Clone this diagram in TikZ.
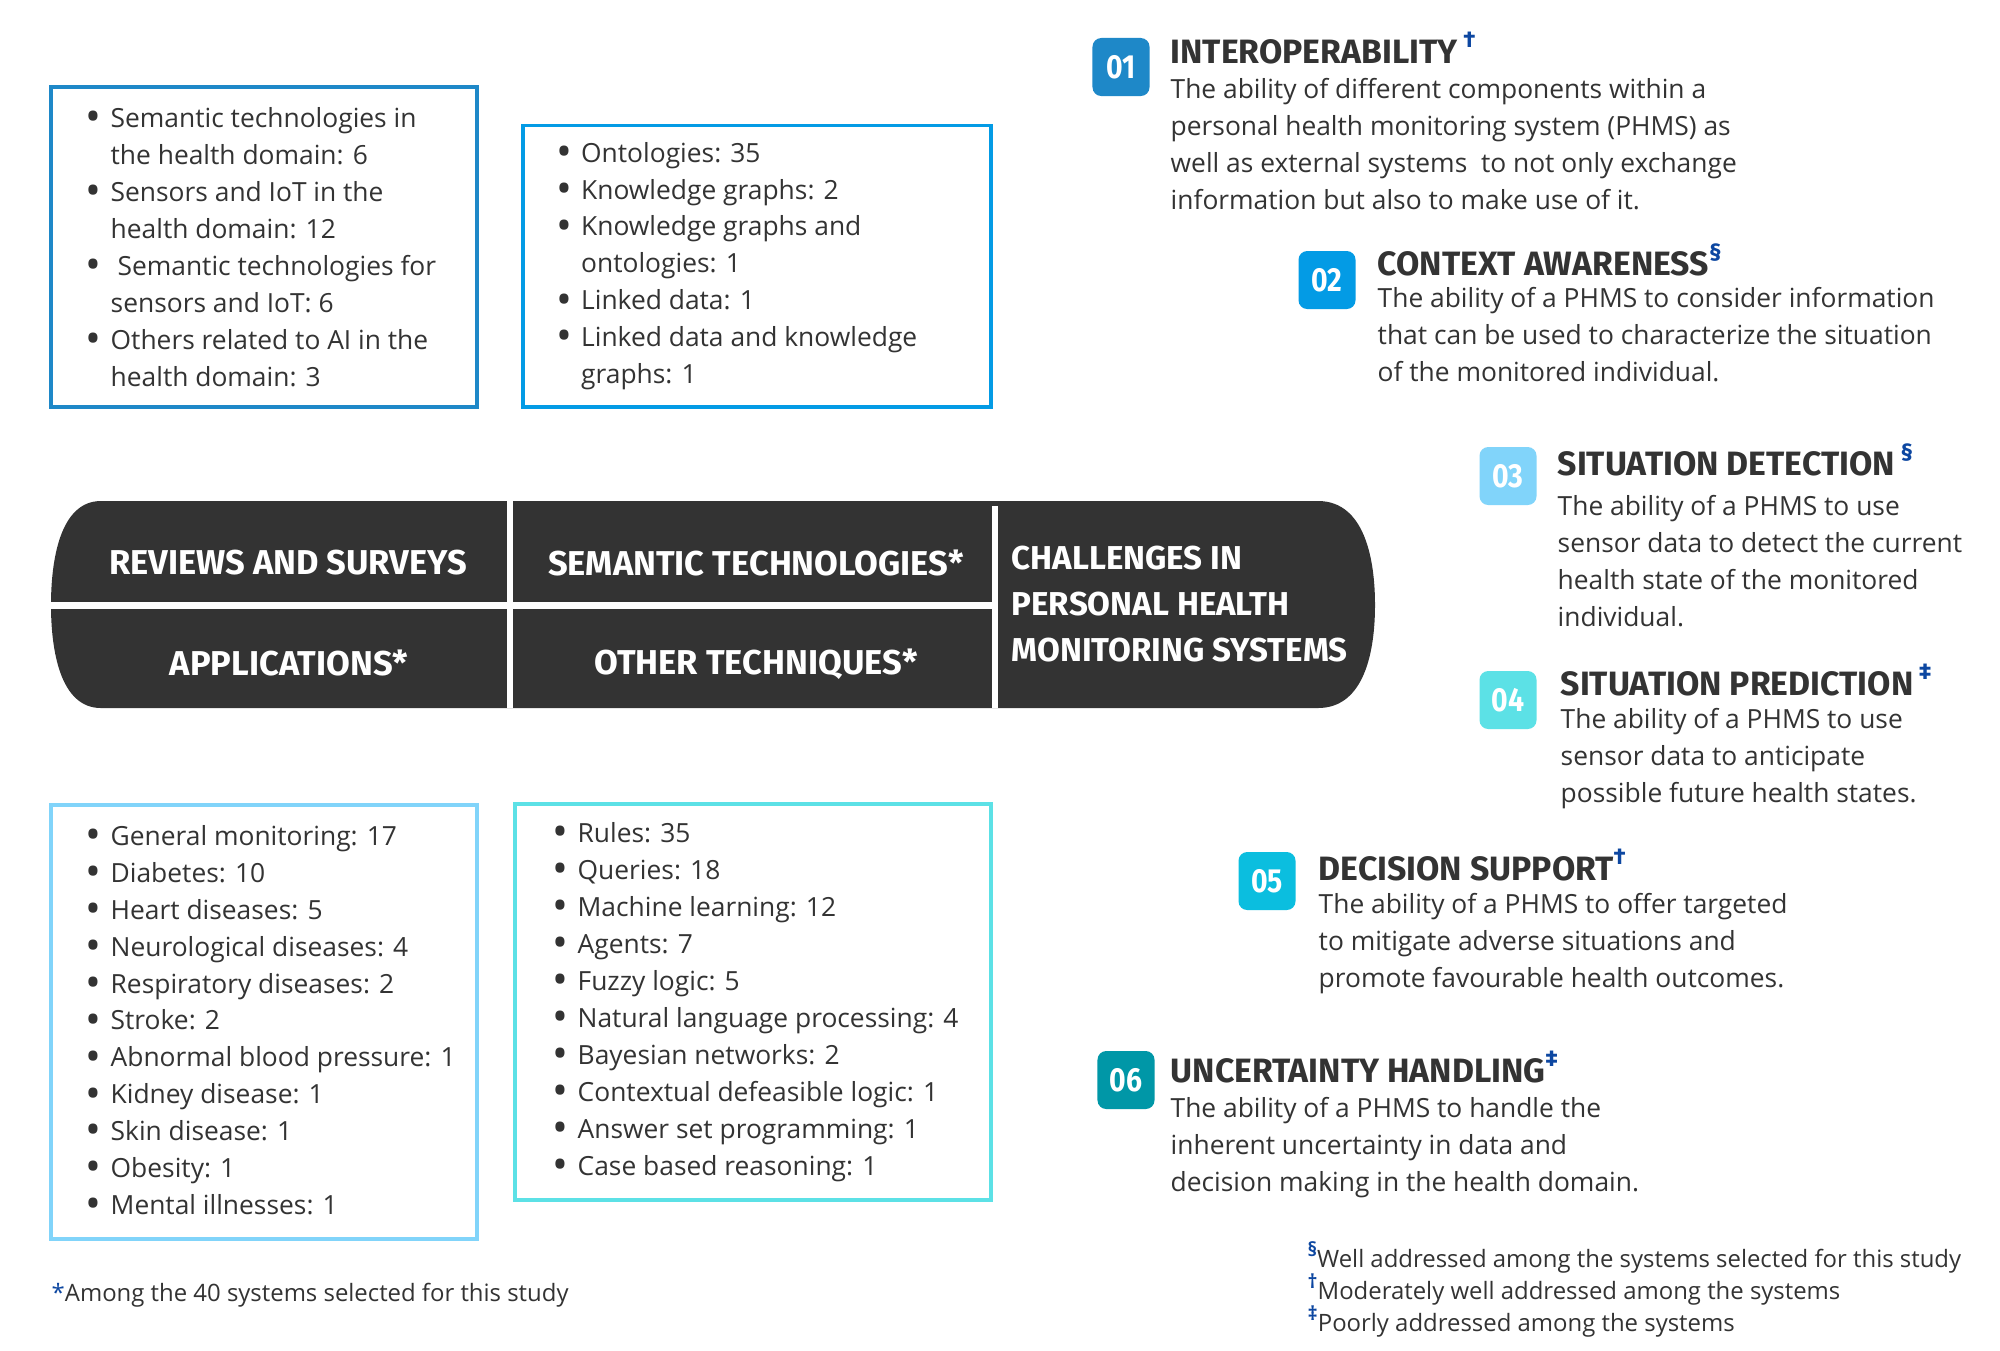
\documentclass[tikz,border=0pt]{standalone}
\usepackage{fontspec}
\setmainfont{Open Sans}
\newfontfamily\headfont{Fira Sans}
\newfontfamily\numfont{Fira Sans}[FakeStretch=0.85]
\usepackage{graphicx}
\usepackage{xcolor}
\usepackage{tikz}
\usetikzlibrary{positioning, backgrounds}
\definecolor{hubgray}{HTML}{333333}
\definecolor{inkgray}{HTML}{333333}
\definecolor{interblue}{HTML}{1E88C8}
\definecolor{contextblue}{HTML}{039BE5}
\definecolor{detectblue}{HTML}{81D4FA}
\definecolor{predictcyan}{HTML}{5CE1E6}
\definecolor{decisioncyan}{HTML}{0BBEDF}
\definecolor{uncertteal}{HTML}{0097A7}
\definecolor{markblue}{HTML}{0D47A1}
\newcommand{\bul}{\makebox[0.25cm][l]{\raisebox{-0.3ex}{\scalebox{1.6}{\textbullet}}}}
\newcommand{\ind}{\hspace*{0.25cm}}
\newcommand{\mk}[1]{{\color{markblue}\raisebox{4.4pt}{\fontsize{6.5}{6.5}\selectfont\bfseries #1}}}
\newcommand{\fmk}[1]{{\color{markblue}\raisebox{3pt}{\fontsize{5.5}{5.5}\selectfont\bfseries #1}}}

\begin{document}
\begin{tikzpicture}[
  x=0.01cm, y=-0.01cm,
  listbox/.style={draw, line width=1.1pt, inner sep=0pt},
  list/.style={align=left, inner sep=0pt, text=inkgray, font=\fontsize{7.5}{10.5}\selectfont},
  cell/.style={inner sep=0pt, text=white, font=\headfont\bfseries\fontsize{9.8}{13}\selectfont},
  badge/.style={rounded corners=2.5pt, minimum width=0.57cm, minimum height=0.58cm, inner sep=0pt, text=white, font=\numfont\bfseries\fontsize{9.5}{9.5}\selectfont},
  title/.style={anchor=base west, inner sep=0pt, text=inkgray, font=\headfont\bfseries\fontsize{9.6}{9.6}\selectfont},
  desc/.style={anchor=base west, align=left, inner sep=0pt, text=inkgray, font=\fontsize{7.5}{10.5}\selectfont},
  note/.style={anchor=base west, align=left, inner sep=0pt, text=inkgray, font=\fontsize{6.8}{9.1}\selectfont},
  link/.style={line width=1.2pt},
]
  \useasboundingbox[fill=white] (0,0) rectangle (2000,1350);

  % Hub
  \fill[hubgray] (101,501) -- (1318,501) .. controls (1365,501) and (1375,560) .. (1375,605)
    .. controls (1375,650) and (1365,708) .. (1318,708) -- (101,708)
    .. controls (60,708) and (51,650) .. (51,605) .. controls (51,560) and (60,501) .. (101,501) -- cycle;
  \draw[white, line width=1.7pt] (510,501) -- (510,708);
  \draw[white, line width=1.7pt] (995,506) -- (995,708);
  \draw[white, line width=2pt] (45,605) -- (995,605);
  \coordinate (hubtop) at (0,501);
  \coordinate (hubbot) at (0,708);
  \coordinate (hubctx) at (1202,501);
  \coordinate (hubdet) at (1355,570);
  \coordinate (hubpre) at (1355,640);
  \coordinate (hubdec) at (1199,708);

  \node[cell] (revcell) at (288,563) {REVIEWS AND SURVEYS};
  \node[cell] (semcell) at (756,563) {SEMANTIC TECHNOLOGIES*};
  \node[cell] (appcell) at (289,663) {APPLICATIONS*};
  \node[cell] (othcell) at (756,664) {OTHER TECHNIQUES*};
  \node[cell, anchor=west, align=left, font=\headfont\bfseries\fontsize{9.4}{13}\selectfont] (chalcell) at (1011,604)
    {CHALLENGES IN\\PERSONAL HEALTH\\MONITORING SYSTEMS};

  % Boxes
  \node[listbox, draw=interblue, minimum width=4.26cm, minimum height=3.2cm] (revbox) at (264,247) {};
  \node[list, right=0.36cm of revbox.west] (revlist)
    {\bul Semantic technologies in\\
     \ind the health domain: 6\\
     \bul Sensors and IoT in the\\
     \ind health domain: 12\\
     \bul\ Semantic technologies for\\
     \ind sensors and IoT: 6\\
     \bul Others related to AI in the\\
     \ind health domain: 3};

  \node[listbox, draw=contextblue, minimum width=4.67cm, minimum height=2.81cm] (sembox) at (757,266) {};
  \node[list, right=0.34cm of sembox.west] (semlist)
    {\bul Ontologies: 35\\
     \bul Knowledge graphs: 2\\
     \bul Knowledge graphs and\\
     \ind ontologies: 1\\
     \bul Linked data: 1\\
     \bul Linked data and knowledge\\
     \ind graphs: 1};

  \node[listbox, draw=detectblue, minimum width=4.26cm, minimum height=4.33cm] (appbox) at (264,1022) {};
  \node[list, right=0.36cm of appbox.west] (applist)
    {\bul General monitoring: 17\\
     \bul Diabetes: 10\\
     \bul Heart diseases: 5\\
     \bul Neurological diseases: 4\\
     \bul Respiratory diseases: 2\\
     \bul Stroke: 2\\
     \bul Abnormal blood pressure: 1\\
     \bul Kidney disease: 1\\
     \bul Skin disease: 1\\
     \bul Obesity: 1\\
     \bul Mental illnesses: 1};

  \node[listbox, draw=predictcyan, minimum width=4.76cm, minimum height=3.95cm] (othbox) at (753,1002) {};
  \node[list, right=0.39cm of othbox.west] (othlist)
    {\bul Rules: 35\\
     \bul Queries: 18\\
     \bul Machine learning: 12\\
     \bul Agents: 7\\
     \bul Fuzzy logic: 5\\
     \bul Natural language processing: 4\\
     \bul Bayesian networks: 2\\
     \bul Contextual defeasible logic: 1\\
     \bul Answer set programming: 1\\
     \bul Case based reasoning: 1};

  % Challenges (desc nodes sit on their last baseline)
  \node[badge, fill=interblue] (interop) at (1121,67) {01};
  \node[title] (interoptitle) at (1170,63) {INTEROPERABILITY\,\mk{†}};
  \node[desc] (interopdesc) at (1170,209)
    {The ability of different components within a\\
     personal health monitoring system (PHMS) as\\
     well as external systems\ \ to not only exchange\\
     information but also to make use of it.};

  \node[badge, fill=contextblue] (context) at (1327,280) {02};
  \node[title] (contexttitle) at (1377,275) {CONTEXT AWARENESS\mk{§}};
  \node[desc] (contextdesc) at (1377,381)
    {The ability of a PHMS to consider information\\
     that can be used to characterize the situation\\
     of the monitored individual.};

  \node[badge, fill=detectblue] (detect) at (1508,476) {03};
  \node[title] (detecttitle) at (1557,475) {SITUATION DETECTION\,\mk{§}};
  \node[desc] (detectdesc) at (1557,626)
    {The ability of a PHMS to use\\
     sensor data to detect the current\\
     health state of the monitored\\
     individual.};

  \node[badge, fill=predictcyan] (predict) at (1508,700) {04};
  \node[title] (predicttitle) at (1560,695) {SITUATION PREDICTION\,\mk{‡}};
  \node[desc] (predictdesc) at (1560,802)
    {The ability of a PHMS to use\\
     sensor data to anticipate\\
     possible future health states.};

  \node[badge, fill=decisioncyan] (decision) at (1267,881) {05};
  \node[title] (decisiontitle) at (1318,880) {DECISION SUPPORT\mk{†}};
  \node[desc] (decisiondesc) at (1318,987)
    {The ability of a PHMS to offer targeted\\
     to mitigate adverse situations and\\
     promote favourable health outcomes.};

  \node[badge, fill=uncertteal] (uncert) at (1126,1080) {06};
  \node[title] (uncerttitle) at (1170,1082) {UNCERTAINTY HANDLING\mk{‡}};
  \node[desc] (uncertdesc) at (1170,1191)
    {The ability of a PHMS to handle the\\
     inherent uncertainty in data and\\
     decision making in the health domain.};

  % Notes
  \node[note] (legend) at (1307,1331)
    {\fmk{§}Well addressed among the systems selected for this study\\
     \fmk{†}Moderately well addressed among the systems\\
     \fmk{‡}Poorly addressed among the systems};
  \node[note] (starnote) at (51,1301) {{\color{markblue}*}Among the 40 systems selected for this study};

  % Connectors
  \begin{scope}[on background layer]
    \draw[link, interblue] (revbox) -- (revbox |- hubtop);
    \draw[link, contextblue] (sembox) -- (sembox |- hubtop);
    \draw[link, detectblue] (appbox) -- (appbox |- hubbot);
    \draw[link, predictcyan] (othbox) -- (othbox |- hubbot);
    \draw[link, interblue] (interop.center) -- (interop |- hubtop);
    \draw[link, contextblue] (context.center) -- (hubctx);
    \draw[link, detectblue] (detect.center) -- (hubdet);
    \draw[link, predictcyan] (predict.center) -- (hubpre);
    \draw[link, decisioncyan] (decision.center) -- (hubdec);
    \draw[link, uncertteal] (uncert.center) -- (uncert |- hubbot);
  \end{scope}
\end{tikzpicture}
\end{document}
